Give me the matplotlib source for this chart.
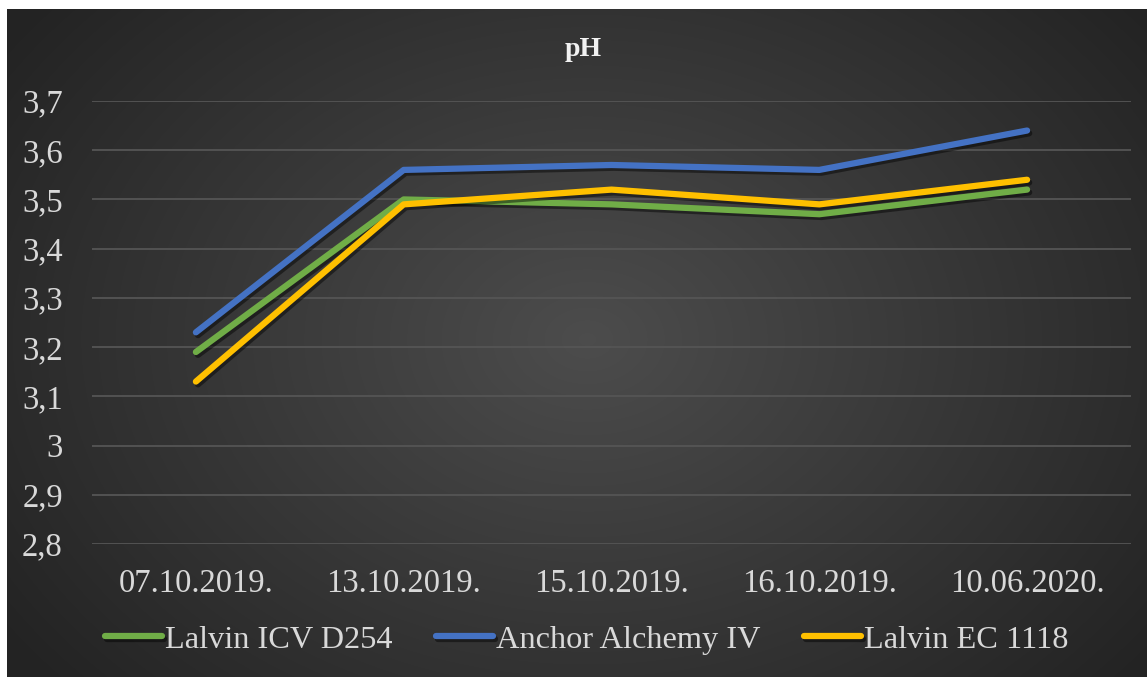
import numpy as np
import matplotlib
matplotlib.use("Agg")
import matplotlib.pyplot as plt
import matplotlib.patheffects as pe

dates = ['07.10.2019.', '13.10.2019.', '15.10.2019.', '16.10.2019.', '10.06.2020.']
d254 = [3.19, 3.50, 3.49, 3.47, 3.52]
alchemy = [3.23, 3.56, 3.57, 3.56, 3.64]
ec1118 = [3.13, 3.49, 3.52, 3.49, 3.54]
yticks = [2.8, 2.9, 3.0, 3.1, 3.2, 3.3, 3.4, 3.5, 3.6, 3.7]
ytick_labels = ['2,8', '2,9', '3', '3,1', '3,2', '3,3', '3,4', '3,5', '3,6', '3,7']

plt.rcParams['font.family'] = ['Liberation Serif', 'DejaVu Serif']

fig = plt.figure(figsize=(11.47, 6.77), dpi=100, facecolor='white')

# dark panel with radial gradient
bg = fig.add_axes([7 / 1147, 0, 1140 / 1147, 668 / 677])
bg.set_axis_off()
yy, xx = np.mgrid[0:668, 0:1140]
r = np.sqrt(((xx - 580) / 700.0) ** 2 + ((yy - 330) / 520.0) ** 2)
r = np.clip(r, 0, 1)
shade = 0.30 - 0.16 * r
img = np.dstack([shade, shade, shade])
bg.imshow(img, aspect='auto', extent=[0, 1, 0, 1], interpolation='bilinear')
bg.set_xlim(0, 1)
bg.set_ylim(0, 1)

ax = fig.add_axes([92 / 1147, (677 - 544) / 677, (1131 - 92) / 1147, (544 - 101) / 677])
ax.patch.set_alpha(0)

x = np.arange(len(dates))
shadow = [pe.SimpleLineShadow(offset=(1.5, -2), shadow_color='black', alpha=0.45), pe.Normal()]
series = [('Lalvin ICV D254', d254, '#70AD47'),
          ('Anchor Alchemy IV', alchemy, '#4472C4'),
          ('Lalvin EC 1118', ec1118, '#FFC000')]
for name, vals, col in series:
    ax.plot(x, vals, color=col, lw=4.5, solid_capstyle='round', solid_joinstyle='round',
            label=name, path_effects=shadow, zorder=3)

ax.set_xlim(-0.5, len(dates) - 0.5)
ax.set_ylim(2.8, 3.7)
ax.set_yticks(yticks)
ax.set_yticklabels(ytick_labels)
ax.set_xticks(x)
ax.set_xticklabels(dates)
ax.grid(axis='y', color='#555555', lw=1.3)
ax.set_axisbelow(True)
for s in ax.spines.values():
    s.set_visible(False)
ax.tick_params(axis='both', length=0, colors='#d9d9d9', labelsize=23.5)
ax.tick_params(axis='y', pad=21)
ax.tick_params(axis='x', pad=18)

fig.text(583 / 1147, 1 - 50 / 677, 'pH', ha='center', va='center', color='#f2f2f2',
         fontsize=20, fontweight='bold')

leg = fig.legend(loc='center', bbox_to_anchor=(587 / 1147, 1 - 640 / 677), ncol=3, frameon=False,
                 fontsize=23.3, handlelength=1.75, handletextpad=0.1, columnspacing=1.35,
                 labelcolor='#d9d9d9')
for h in leg.get_lines():
    h.set_linewidth(4.5)
    h.set_solid_capstyle('round')

fig.savefig('out.png', dpi=100, facecolor='white')
